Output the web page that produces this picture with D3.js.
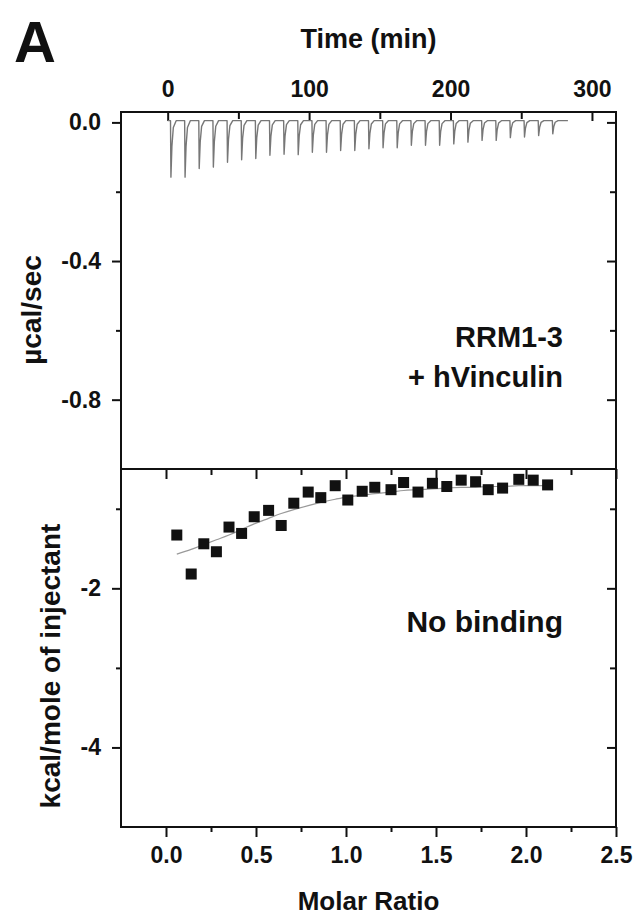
<!DOCTYPE html>
<html>
<head>
<meta charset="utf-8">
<script src="https://cdn.jsdelivr.net/npm/d3@7"></script>
<style>
  html, body { margin: 0; padding: 0; background: #fff; }
  svg { display: block; }
  text { font-family: "Liberation Sans", Arial, Helvetica, sans-serif; font-weight: bold; fill: #111; }
</style>
</head>
<body>
<div id="chart"></div>
<script>
'use strict';

// Raw thermogram: injection times (min) and peak heights (µcal/sec)
var injectionTimes = [2, 12, 22, 32, 42, 52, 62, 72, 82, 92, 102, 112, 122, 132,
  142, 152, 162, 172, 182, 192, 202, 212, 222, 232, 242, 252, 262, 272]
var peakHeights = [-0.158, -0.158, -0.133, -0.129, -0.115, -0.108, -0.104, -0.095,
  -0.092, -0.093, -0.086, -0.086, -0.081, -0.081, -0.076, -0.073, -0.073, -0.066,
  -0.066, -0.066, -0.062, -0.057, -0.052, -0.052, -0.044, -0.042, -0.038, -0.033]
var baselineUcal = 0.005
var traceStart = 0, traceEnd = 283

// Integrated heats
var molarRatio = [0.06, 0.14, 0.21, 0.28, 0.35, 0.42, 0.49, 0.57, 0.64, 0.71, 0.79,
  0.86, 0.94, 1.01, 1.09, 1.16, 1.25, 1.32, 1.40, 1.48, 1.56, 1.64, 1.72, 1.79,
  1.87, 1.96, 2.04, 2.12]
var heats = [-1.33, -1.82, -1.44, -1.54, -1.23, -1.31, -1.10, -1.02, -1.21, -0.93,
  -0.79, -0.86, -0.71, -0.89, -0.78, -0.73, -0.76, -0.67, -0.79, -0.68, -0.72,
  -0.64, -0.66, -0.76, -0.74, -0.63, -0.64, -0.70]
var fitHeats = [-1.57, -1.51, -1.45, -1.39, -1.33, -1.26, -1.19, -1.12, -1.06, -1.01,
  -0.96, -0.92, -0.88, -0.85, -0.83, -0.81, -0.79, -0.77, -0.76, -0.75, -0.74,
  -0.73, -0.73, -0.72, -0.72, -0.71, -0.71, -0.71]

// Ticks
var timeTicks = [0, 100, 200, 300]
var timeMinor = [50, 150, 250]
var ucalTicks = [0.0, -0.4, -0.8]
var ucalMinor = [-0.2, -0.6]
var kcalTicks = [-2, -4]
var kcalMinor = [-1, -3]
var ratioTicks = [0.0, 0.5, 1.0, 1.5, 2.0, 2.5]
var ratioMinor = [0.25, 0.75, 1.25, 1.75, 2.25]

var W = 636, H = 915
var frameL = 121, frameR = 616, frameT = 112, frameM = 469, frameB = 827

var svg = d3.select('#chart').append('svg')
  .attr('width', W)
  .attr('height', H)

// Scales
var xTime = d3.scaleLinear().domain([-33, 317]).range([frameL, frameR])
var yUcal = d3.scaleLinear().domain([-1.0, 0.03]).range([frameM, frameT])
var xRatio = d3.scaleLinear().domain([-0.25, 2.5]).range([frameL, frameR])
var yKcal = d3.scaleLinear().domain([-5, -0.5]).range([frameB, frameM])

// plain hyphen for negatives, like the original figure
function hyphenFormat(spec) {
  var f = d3.format(spec)
  return function(d){ return f(d).replace('\u2212', '-') }
}

function styleAxis(g, fontSize) {
  g.select('.domain').remove()
  g.selectAll('.tick line').attr('stroke', '#111').attr('stroke-width', 2)
  g.selectAll('.tick text')
    .attr('fill', '#111')
    .style('font-size', fontSize + 'px')
    .style('font-family', '"Liberation Sans", Arial, Helvetica, sans-serif')
    .style('font-weight', 'bold')
}

function addAxis(axis, transform) {
  var g = svg.append('g').attr('transform', transform).call(axis)
  styleAxis(g, 23)
  return g
}

// --- top panel: time axis (ticks inward)
addAxis(d3.axisTop(xTime).tickValues(timeTicks).tickSize(-9).tickPadding(15)
  .tickFormat(hyphenFormat('d')), 'translate(0,' + frameT + ')')
addAxis(d3.axisTop(xTime).tickValues(timeMinor).tickSize(-7).tickFormat(''),
  'translate(0,' + frameT + ')')

// left µcal axis (outward)
addAxis(d3.axisLeft(yUcal).tickValues(ucalTicks).tickSize(9).tickPadding(11)
  .tickFormat(hyphenFormat('.1f')), 'translate(' + frameL + ',0)')
addAxis(d3.axisLeft(yUcal).tickValues(ucalMinor).tickSize(5).tickFormat(''),
  'translate(' + frameL + ',0)')
// right µcal axis (inward)
addAxis(d3.axisRight(yUcal).tickValues(ucalTicks).tickSize(-9).tickFormat(''),
  'translate(' + frameR + ',0)')
addAxis(d3.axisRight(yUcal).tickValues(ucalMinor).tickSize(-6).tickFormat(''),
  'translate(' + frameR + ',0)')

// --- bottom panel
addAxis(d3.axisLeft(yKcal).tickValues(kcalTicks).tickSize(9).tickPadding(11)
  .tickFormat(hyphenFormat('d')), 'translate(' + frameL + ',0)')
addAxis(d3.axisLeft(yKcal).tickValues(kcalMinor).tickSize(5).tickFormat(''),
  'translate(' + frameL + ',0)')
addAxis(d3.axisRight(yKcal).tickValues(kcalTicks).tickSize(-9).tickFormat(''),
  'translate(' + frameR + ',0)')
addAxis(d3.axisRight(yKcal).tickValues(kcalMinor).tickSize(-6).tickFormat(''),
  'translate(' + frameR + ',0)')

addAxis(d3.axisBottom(xRatio).tickValues(ratioTicks).tickSize(10).tickPadding(10)
  .tickFormat(hyphenFormat('.1f')), 'translate(0,' + frameB + ')')
addAxis(d3.axisBottom(xRatio).tickValues(ratioMinor).tickSize(5).tickFormat(''),
  'translate(0,' + frameB + ')')
// ratio ticks on the divider, pointing down into the bottom panel
addAxis(d3.axisTop(xRatio).tickValues(ratioTicks).tickSize(-10).tickFormat(''),
  'translate(0,' + frameM + ')')
addAxis(d3.axisTop(xRatio).tickValues(ratioMinor).tickSize(-6).tickFormat(''),
  'translate(0,' + frameM + ')')

// Frames
svg.append('rect')
  .attr('x', frameL).attr('y', frameT)
  .attr('width', frameR - frameL).attr('height', frameB - frameT)
  .attr('fill', 'none').attr('stroke', '#111').attr('stroke-width', 2)
svg.append('line')
  .attr('x1', frameL).attr('x2', frameR).attr('y1', frameM).attr('y2', frameM)
  .attr('stroke', '#111').attr('stroke-width', 2)

// Thermogram trace: baseline with a sharp spike at each injection
var trace = [[traceStart, baselineUcal]]
injectionTimes.forEach(function(t, i){
  var p = peakHeights[i]
  trace.push([t, baselineUcal])
  trace.push([t + 0.3, p])
  trace.push([t + 1.0, baselineUcal + (p - baselineUcal) * 0.45])
  trace.push([t + 2.0, baselineUcal + (p - baselineUcal) * 0.12])
  trace.push([t + 4.0, baselineUcal])
})
trace.push([traceEnd, baselineUcal])

var traceLine = d3.line()
  .x(function(d){ return xTime(d[0]) })
  .y(function(d){ return yUcal(d[1]) })

svg.append('path')
  .datum(trace)
  .attr('fill', 'none')
  .attr('stroke', '#777')
  .attr('stroke-width', 1.4)
  .attr('stroke-linejoin', 'round')
  .attr('d', traceLine)

// Fit curve
var fitLine = d3.line()
  .curve(d3.curveMonotoneX)
  .x(function(d, i){ return xRatio(molarRatio[i]) })
  .y(function(d){ return yKcal(d) })

svg.append('path')
  .datum(fitHeats)
  .attr('fill', 'none')
  .attr('stroke', '#999')
  .attr('stroke-width', 1.2)
  .attr('d', fitLine)

// Data squares
var sq = 11
svg.selectAll('rect.pt')
  .data(heats)
  .enter().append('rect')
    .attr('class', 'pt')
    .attr('x', function(d, i){ return xRatio(molarRatio[i]) - sq / 2 })
    .attr('y', function(d){ return yKcal(d) - sq / 2 })
    .attr('width', sq)
    .attr('height', sq)
    .attr('fill', '#111')

// Titles and labels
svg.append('text')
  .attr('x', 14).attr('y', 62)
  .style('font-size', '58px')
  .text('A')

svg.append('text')
  .attr('x', (frameL + frameR) / 2).attr('y', 48)
  .attr('text-anchor', 'middle')
  .style('font-size', '27px')
  .text('Time (min)')

svg.append('text')
  .attr('x', (frameL + frameR) / 2).attr('y', 910)
  .attr('text-anchor', 'middle')
  .style('font-size', '26px')
  .text('Molar Ratio')

svg.append('text')
  .attr('transform', 'translate(41,310) rotate(-90)')
  .attr('text-anchor', 'middle')
  .style('font-size', '28px')
  .text('µcal/sec')

svg.append('text')
  .attr('transform', 'translate(60,666) rotate(-90)')
  .attr('text-anchor', 'middle')
  .style('font-size', '28px')
  .text('kcal/mole of injectant')

svg.append('text')
  .attr('x', 563).attr('y', 347)
  .attr('text-anchor', 'end')
  .style('font-size', '29px')
  .text('RRM1-3')

svg.append('text')
  .attr('x', 563).attr('y', 387)
  .attr('text-anchor', 'end')
  .style('font-size', '29px')
  .text('+ hVinculin')

svg.append('text')
  .attr('x', 563).attr('y', 632)
  .attr('text-anchor', 'end')
  .style('font-size', '30px')
  .text('No binding')
</script>
</body>
</html>
